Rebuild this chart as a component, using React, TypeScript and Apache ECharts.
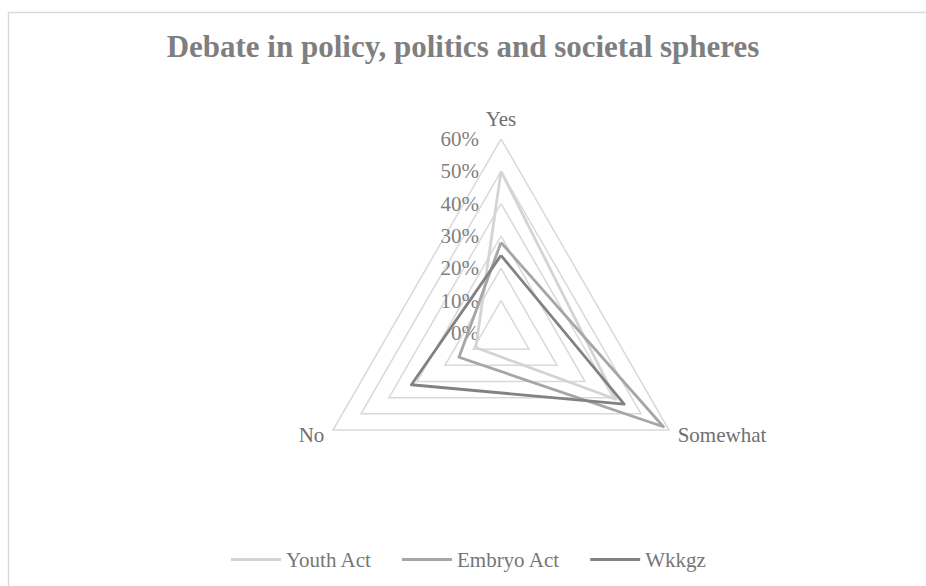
import React, { useEffect, useRef } from "react";
import * as echarts from "echarts";

// ECharts radar runs counter-clockwise: Yes (top), No (bottom-left), Somewhat (bottom-right)
const indicators = ["Yes", "No", "Somewhat"];
const seriesNames = ["Youth Act", "Embryo Act", "Wkkgz"];
// values in order [Yes, No, Somewhat]
const youthAct = [50, 9, 41];
const embryoAct = [28, 15, 58];
const wkkgz = [24, 32, 44];
const colors = ["#d4d4d4", "#a6a6a6", "#828282"];

export default function App() {
  const ref = useRef<HTMLDivElement>(null);
  useEffect(() => {
    document.body.style.margin = "0";
    const chart = echarts.init(ref.current!, null, { renderer: "svg" });
    const font = "'Liberation Serif', 'Times New Roman', serif";
    const data = [youthAct, embryoAct, wkkgz];
    chart.setOption({
      animation: false,
      backgroundColor: "#ffffff",
      title: {
        text: "Debate in policy, politics and societal spheres",
        left: "center",
        top: 26,
        textStyle: { fontFamily: font, fontWeight: "bold", fontSize: 31, color: "#7f7f7f" },
      },
      graphic: [
        {
          type: "rect",
          shape: { x: 8.5, y: 12.5, width: 940, height: 600 },
          style: { fill: "none", stroke: "#d9d9d9", lineWidth: 1.5 },
          silent: true,
        },
      ],
      legend: {
        top: 544,
        left: 226,
        itemWidth: 50,
        itemHeight: 3,
        itemGap: 30,
        icon: "rect",
        data: seriesNames,
        textStyle: { fontFamily: font, fontSize: 21, color: "#767676" },
      },
      radar: {
        center: [501, 333],
        radius: 194,
        shape: "polygon",
        splitNumber: 6,
        indicator: indicators.map((n, i) => ({
          name: n,
          min: 0,
          max: 60,
          axisLabel: { show: i === 0 },
        })),
        axisName: { color: "#707070", fontFamily: font, fontSize: 21 },
        nameGap: 10,
        splitArea: { show: false },
        splitLine: { lineStyle: { color: "#d9d9d9", width: 1.5 } },
        axisLine: { show: false },
        axisTick: { show: false },
        axisLabel: {
          formatter: (v: number) => v + "%",
          color: "#7f7f7f",
          fontFamily: font,
          fontSize: 21,
          margin: 22,
        },
      },
      series: [
        {
          type: "radar",
          symbol: "none",
          data: seriesNames.map((n, i) => ({
            name: n,
            value: data[i],
            lineStyle: { color: colors[i], width: 2.8 },
            itemStyle: { color: colors[i] },
          })),
        },
      ],
    });
    return () => chart.dispose();
  }, []);
  return <div ref={ref} style={{ width: 926, height: 586 }} />;
}
